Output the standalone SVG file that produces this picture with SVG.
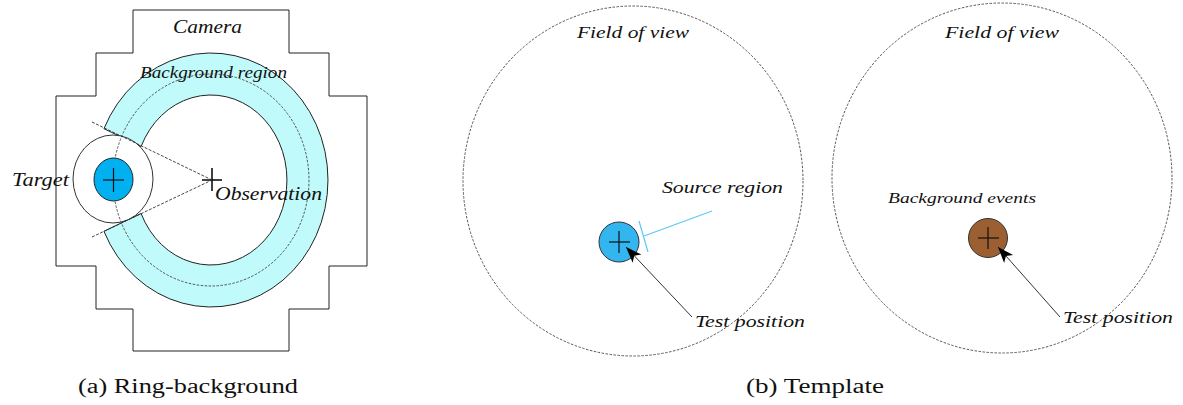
<svg xmlns="http://www.w3.org/2000/svg" width="1183" height="405" viewBox="0 0 1183 405">
<style>
.lbl{font-family:"Liberation Serif","Times New Roman",serif;font-style:italic;fill:#111}
.cap{font-family:"Liberation Serif","Times New Roman",serif;fill:#111;font-size:20px}
.dash{fill:none;stroke:#444;stroke-width:0.9;stroke-dasharray:2.5 1.5}
.solid{stroke:#222;stroke-width:1}
.cross{stroke:#111;stroke-width:1.2}
</style>
<defs>
<marker id="arr" markerUnits="userSpaceOnUse" markerWidth="18" markerHeight="14" refX="16" refY="6" orient="auto">
<path d="M0,0 L16,6 L0,12 L4,6 Z" fill="#000"/>
</marker>
</defs>
<rect width="1183" height="405" fill="#fff"/>

<g id="camera">
<polygon points="133,10 289,10 289,53 329,53 329,96 367,96 367,266 329,266 329,309 289,309 289,351 133,351 133,309 96,309 96,266 56,266 56,96 96,96 96,53 133,53" fill="#fff" stroke="#222" stroke-width="1"/>
<text class="lbl" x="173" y="33" font-size="19" textLength="69" lengthAdjust="spacingAndGlyphs">Camera</text>
</g>

<g id="background-ring">
<path d="M103.95,128.7 A117,127 0 1 1 103.95,231.3 L141.1,213.5 A76,85 0 1 0 141.1,146.5 Z" fill="#c0fafa" stroke="#222" stroke-width="1"/>
<text class="lbl" x="140" y="78" font-size="17" textLength="147" lengthAdjust="spacingAndGlyphs">Background region</text>
</g>

<g id="target">
<ellipse cx="113" cy="179" rx="40" ry="44" fill="#fff" stroke="#333" stroke-width="1"/>
<ellipse class="dash" cx="211" cy="180" rx="98" ry="106"/>
<ellipse cx="113.5" cy="179.5" rx="19.5" ry="21.5" fill="#00b0f0" stroke="#222" stroke-width="1"/>
<line class="cross" x1="103" y1="180" x2="124" y2="180"/>
<line class="cross" x1="113.5" y1="168" x2="113.5" y2="192"/>
<text class="lbl" x="12" y="186" font-size="19" textLength="57" lengthAdjust="spacingAndGlyphs">Target</text>
</g>

<g id="observation">
<line x1="202" y1="180" x2="222" y2="180" stroke="#000" stroke-width="1.5"/>
<line x1="212" y1="168" x2="212" y2="191" stroke="#000" stroke-width="1.5"/>
<text class="lbl" x="215" y="200" font-size="19" textLength="107" lengthAdjust="spacingAndGlyphs">Observation</text>
</g>

<g id="fov1">
<ellipse class="dash" cx="633" cy="181" rx="170" ry="175"/>
<text class="lbl" x="577" y="38" font-size="17" textLength="112" lengthAdjust="spacingAndGlyphs">Field of view</text>
</g>

<g id="source">
<circle cx="619" cy="242" r="20" fill="#33b5f0" stroke="#333" stroke-width="1"/>
<line class="cross" x1="609" y1="242" x2="630" y2="242"/>
<line class="cross" x1="619" y1="231" x2="619" y2="253"/>
<text class="lbl" x="662" y="193" font-size="17" textLength="121" lengthAdjust="spacingAndGlyphs">Source region</text>
</g>

<g id="test1">
<text class="lbl" x="695" y="327" font-size="17" textLength="110" lengthAdjust="spacingAndGlyphs">Test position</text>
</g>

<g id="fov2">
<ellipse class="dash" cx="1002" cy="178" rx="170" ry="175"/>
<text class="lbl" x="945" y="38" font-size="17" textLength="114" lengthAdjust="spacingAndGlyphs">Field of view</text>
</g>

<g id="bgevents">
<circle cx="988" cy="238" r="19.5" fill="#9b5f32" stroke="#333" stroke-width="1"/>
<line class="cross" x1="978" y1="238" x2="999" y2="238"/>
<line class="cross" x1="988" y1="227" x2="988" y2="249"/>
<text class="lbl" x="888" y="203" font-size="15" textLength="148" lengthAdjust="spacingAndGlyphs">Background events</text>
</g>

<g id="test2">
<text class="lbl" x="1063" y="323" font-size="17" textLength="110" lengthAdjust="spacingAndGlyphs">Test position</text>
</g>

<g id="connectors">
<line x1="92" y1="122" x2="212" y2="180" stroke="#333" stroke-width="0.9" stroke-dasharray="3 1.5"/>
<line x1="92" y1="237" x2="212" y2="180" stroke="#333" stroke-width="0.9" stroke-dasharray="3 1.5"/>
<line x1="712" y1="211" x2="644" y2="236" stroke="#5bc8f5" stroke-width="1.2"/>
<line x1="639" y1="221" x2="648" y2="252" stroke="#5bc8f5" stroke-width="1.2"/>
<line x1="692" y1="317" x2="626" y2="247" stroke="#333" stroke-width="1" marker-end="url(#arr)"/>
<line x1="1060" y1="317" x2="998" y2="247" stroke="#333" stroke-width="1" marker-end="url(#arr)"/>
</g>

<g id="captions">
<text class="cap" x="78" y="393" textLength="220" lengthAdjust="spacingAndGlyphs">(a) Ring-background</text>
<text class="cap" x="746" y="393" textLength="138" lengthAdjust="spacingAndGlyphs">(b) Template</text>
</g>
</svg>
